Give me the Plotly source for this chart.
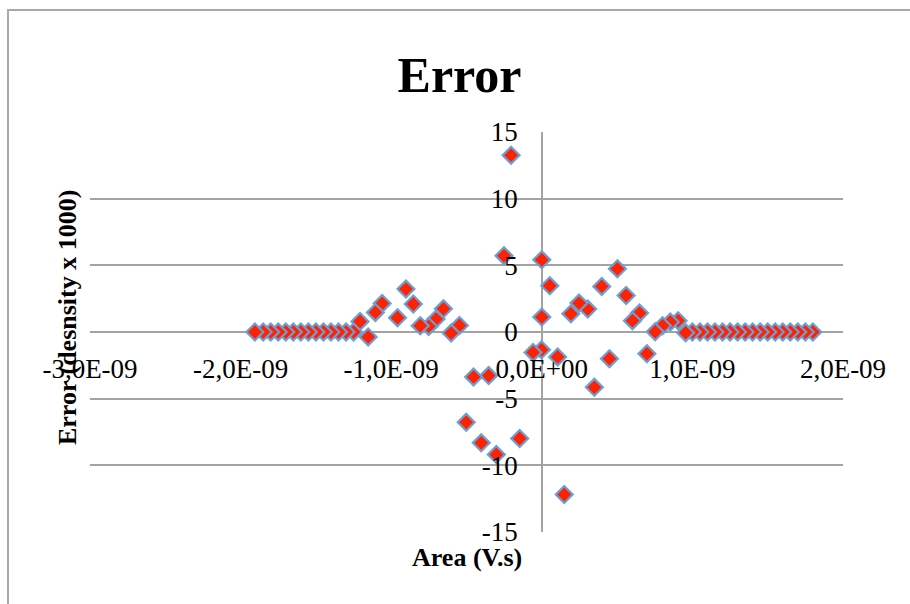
import plotly.graph_objects as go

# Data (x in units of 1e-9 V.s), listed right-to-left as drawn in the reference
area_e9 = [1.80, 1.75, 1.70, 1.65, 1.60, 1.55, 1.50, 1.45, 1.40, 1.35, 1.30, 1.25,
           1.20, 1.15, 1.10, 1.05, 1.00, 0.955,
           0.905, 0.853, 0.802, 0.753, 0.698, 0.649, 0.602, 0.56, 0.502, 0.449,
           0.398, 0.349, 0.305, 0.247, 0.193, 0.149, 0.105, 0.053, 0.0, 0.0,
           -0.002, -0.058, -0.147, -0.204, -0.251, -0.302, -0.353, -0.402, -0.453,
           -0.502, -0.547, -0.602, -0.653, -0.702, -0.751, -0.807, -0.853, -0.902,
           -0.958, -1.06, -1.105, -1.153, -1.207,
           -1.25, -1.30, -1.35, -1.40, -1.45, -1.50, -1.55, -1.60, -1.65, -1.70,
           -1.75, -1.80, -1.85, -1.905]
error_k = [0.0, 0.0, 0.0, 0.0, 0.0, 0.0, 0.0, 0.0, 0.0, 0.0, 0.0, 0.0,
           0.0, 0.0, 0.0, 0.0, 0.0, -0.05,
           0.85, 0.75, 0.47, 0.02, -1.63, 1.42, 0.85, 2.74, 4.74, -2.0,
           3.42, -4.15, 1.72, 2.17, 1.37, -12.19, -1.87, 3.47, 1.12, 5.42,
           -1.33, -1.53, -7.99, 13.26, 5.72, -9.19, -3.27, -8.31, -3.37,
           -6.77, 0.49, -0.08, 1.74, 0.97, 0.42, 0.47, 2.1, 3.22,
           1.07, 2.14, 1.47, -0.37, 0.79,
           0.0, 0.0, 0.0, 0.0, 0.0, 0.0, 0.0, 0.0, 0.0, 0.0,
           0.0, 0.0, 0.0, 0.0]

x_tick_vals = [-3e-9, -2e-9, -1e-9, 0.0, 1e-9, 2e-9]
x_tick_text = ["-3,0E-09", "-2,0E-09", "-1,0E-09", "0,0E+00", "1,0E-09", "2,0E-09"]
y_tick_vals = [-15, -10, -5, 0, 5, 10, 15]
y_tick_text = ["-15", "-10", "-5", "0", "5", "10", "15"]

x_vals = [v * 1e-9 for v in area_e9]

FONT = "Liberation Serif"
GRID = "#a3a3a3"

fig = go.Figure()
fig.add_trace(go.Scatter(
    x=x_vals, y=error_k, mode="markers",
    marker=dict(symbol="diamond", size=13, color="#ff2200",
                line=dict(color="#6b9fd6", width=2.2)),
    showlegend=False, hoverinfo="x+y",
))

fig.update_layout(
    width=910, height=604,
    margin=dict(l=90, r=67, t=132, b=72, autoexpand=False),
    paper_bgcolor="white", plot_bgcolor="white",
    font=dict(family=FONT, color="black", size=27),
    title=dict(text="<b>Error</b>", x=0.505, xref="container", xanchor="center",
               y=1 - 74 / 604, yref="container", yanchor="middle",
               font=dict(family=FONT, size=50, color="black")),
    xaxis=dict(range=[-3e-9, 2e-9], tickvals=x_tick_vals, ticktext=x_tick_text,
               showgrid=False, zeroline=True, zerolinecolor=GRID, zerolinewidth=1.5,
               showline=False, ticks="", anchor="free", position=0.5,
               ticklabelstandoff=18, tickfont=dict(family=FONT, size=27),
               domain=[0, 1]),
    yaxis=dict(range=[-15, 15], tickvals=y_tick_vals, ticktext=y_tick_text,
               showgrid=True, gridcolor=GRID, gridwidth=1.5,
               zeroline=False, showline=False, ticks="",
               anchor="free", position=0.6, ticklabelstandoff=24,
               tickfont=dict(family=FONT, size=27), domain=[0, 1]),
    annotations=[
        dict(text="<b>Area (V.s)</b>", xref="paper", yref="paper", x=0.5, y=-0.0625,
             xanchor="center", yanchor="middle", showarrow=False,
             font=dict(family=FONT, size=26, color="black")),
        dict(text="<b>Error (desnsity x 1000)</b>", xref="paper", yref="paper",
             x=-0.0305, y=0.535, xanchor="center", yanchor="middle", textangle=-90,
             showarrow=False, font=dict(family=FONT, size=26, color="black")),
    ],
    shapes=[
        dict(type="rect", xref="paper", yref="paper",
             x0=(8 - 90) / 753, x1=(930 - 90) / 753,
             y0=(532 - 640) / 400, y1=(532 - 10) / 400,
             line=dict(color="#a8a8a8", width=2), fillcolor="rgba(0,0,0,0)",
             layer="below"),
    ],
)

fig.write_html("out.html")
